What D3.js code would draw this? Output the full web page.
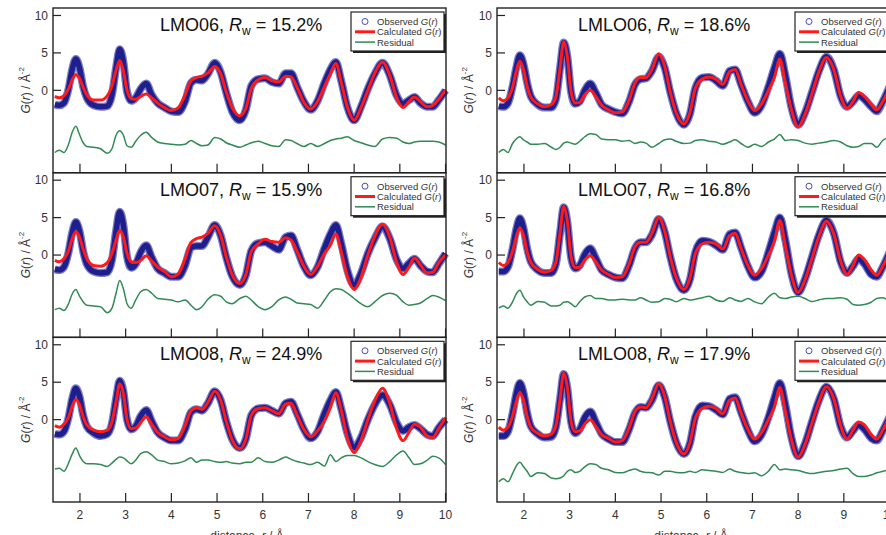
<!DOCTYPE html>
<html>
<head>
<meta charset="utf-8">
<script src="https://cdn.jsdelivr.net/npm/d3@7"></script>
<style>
  body { margin: 0; background: #fff; }
  svg { font-family: "Liberation Sans", Arial, sans-serif; }
</style>
</head>
<body>
<svg id="chart" width="886" height="535"></svg>
<script>
// r grid (Å) shared by every panel
const r = [1.45, 1.55, 1.65, 1.75, 1.83, 1.91, 1.99, 2.07, 2.15,
  2.3, 2.45, 2.6, 2.7, 2.79, 2.87, 2.95, 3.03, 3.12, 3.22, 3.33,
  3.45, 3.57, 3.7, 3.85, 4.0, 4.15, 4.3, 4.43, 4.55, 4.67,
  4.8, 4.95, 5.08, 5.2, 5.33, 5.5, 5.63, 5.75, 5.9, 6.05,
  6.2, 6.35, 6.5, 6.62, 6.75, 6.9, 7.05, 7.2, 7.35, 7.48,
  7.6, 7.72, 7.85, 8.0, 8.15, 8.3, 8.45, 8.62, 8.78, 8.93,
  9.07, 9.2, 9.32, 9.45, 9.6, 9.72, 9.85, 10.0];

const lmo06Obs = [-1.9, -2.0, -1.7, 0.2, 2.8, 4.2, 3.0, 0.5, -1.0,
  -2.0, -2.2, -2.1, -0.6, 3.0, 5.5, 3.8, -0.2, -1.4, -1.0, 0.2,
  0.9, -0.6, -1.7, -2.3, -2.8, -2.9, -1.5, 1.0, 1.4, 1.3,
  2.2, 3.7, 2.4, -0.3, -2.8, -4.0, -2.6, 0.6, 1.5, 1.6,
  1.1, 0.9, 2.3, 2.3, 0.5, -1.5, -2.6, -1.4, 1.0, 2.8,
  3.8, 1.2, -2.2, -4.0, -2.2, 0.2, 2.2, 3.7, 2.0, -0.7,
  -1.8, -1.3, -0.9, -1.7, -2.2, -2.2, -1.3, 0.0];
const lmo06Calc = [-0.8, -1.0, -0.7, 0.2, 1.4, 2.1, 1.6, 0.4, -0.6,
  -1.3, -1.3, -0.7, 0.6, 2.7, 4.0, 2.6, 0.0, -1.1, -1.2, -0.8,
  -0.5, -1.0, -1.7, -2.3, -2.7, -2.3, -0.6, 1.3, 1.7, 1.9,
  2.3, 3.2, 2.2, -0.2, -2.3, -3.4, -2.4, 0.3, 1.4, 1.7,
  1.3, 1.1, 1.9, 1.8, 0.4, -1.6, -2.5, -1.5, 0.5, 2.2,
  3.6, 1.0, -2.2, -4.0, -2.3, 0.0, 2.3, 3.8, 2.0, -1.0,
  -2.3, -1.5, -0.9, -1.5, -2.2, -2.0, -1.2, 0.1];
const lmo06Res = [-8.3, -8.0, -8.3, -7.2, -5.6, -4.8, -5.9, -7.0, -7.5,
  -7.6, -7.8, -8.4, -7.8, -6.0, -5.4, -6.0, -7.4, -7.6, -6.8, -6.0,
  -5.6, -6.3, -6.9, -7.1, -7.2, -7.3, -7.2, -6.7, -7.1, -7.4,
  -7.3, -6.3, -6.5, -7.0, -7.3, -7.6, -7.3, -7.0, -6.8, -7.1,
  -7.4, -7.5, -6.6, -6.7, -7.1, -7.5, -7.1, -7.5, -7.1, -6.7,
  -6.5, -6.4, -6.2, -6.7, -7.0, -7.3, -7.5, -6.5, -6.3, -6.4,
  -6.9, -7.1, -6.9, -6.8, -6.8, -6.8, -6.9, -7.3];

const lmo07Obs = [-1.9, -2.0, -1.6, 0.4, 3.0, 4.4, 3.2, 0.5, -1.2,
  -2.2, -2.4, -2.3, -0.7, 3.2, 5.8, 4.0, -0.2, -1.7, -1.2, 0.4,
  1.3, -0.3, -1.8, -2.4, -2.9, -2.9, -1.4, 1.0, 1.2, 1.2,
  2.4, 4.0, 2.6, -0.3, -2.8, -4.0, -2.7, 0.6, 1.6, 1.7,
  1.2, 0.7, 2.4, 2.6, 0.8, -1.5, -2.7, -1.6, 0.9, 2.8,
  4.0, 1.5, -2.0, -4.0, -2.4, 0.2, 2.2, 3.8, 2.2, -0.6,
  -1.8, -1.1, -0.5, -1.4, -2.2, -2.3, -1.2, 0.2];
const lmo07Calc = [-0.7, -0.9, -0.5, 0.6, 2.2, 3.1, 2.4, 0.8, -0.5,
  -1.4, -1.5, -1.0, 0.2, 2.0, 3.3, 2.4, 0.2, -0.9, -1.0, -0.7,
  -0.1, -0.8, -1.6, -2.2, -2.9, -2.5, -0.5, 1.7, 2.2, 2.4,
  2.9, 3.9, 2.6, -0.2, -2.6, -3.8, -2.6, 0.5, 1.5, 2.1,
  1.8, 1.7, 2.3, 2.0, 0.5, -1.5, -2.6, -1.5, 0.2, 1.3,
  2.8, 0.4, -2.8, -4.6, -3.0, 0.0, 2.5, 4.1, 2.4, -1.0,
  -2.6, -1.6, -0.4, -1.3, -2.4, -2.3, -1.0, 0.0];
const lmo07Res = [-7.3, -7.1, -7.4, -6.5, -5.2, -4.6, -5.5, -6.25, -6.7,
  -6.8, -6.9, -7.7, -7.1, -5.1, -3.4, -4.5, -6.5, -7.1, -6.0, -4.9,
  -4.6, -5.1, -5.8, -5.9, -6.0, -6.25, -6.0, -6.7, -7.3, -6.9,
  -5.9, -5.3, -5.5, -6.25, -6.5, -5.8, -5.5, -6.0, -6.9, -7.3,
  -6.9, -6.0, -5.6, -5.9, -6.4, -6.5, -6.6, -7.1, -6.0, -4.9,
  -4.5, -4.6, -5.1, -5.8, -6.5, -6.9, -6.25, -5.4, -5.1, -5.4,
  -6.25, -6.7, -6.6, -6.4, -5.8, -5.4, -5.6, -6.1];

const lmo08Obs = [-1.9, -2.0, -1.6, 0.3, 2.8, 4.2, 3.1, 0.6, -0.9,
  -1.8, -2.2, -1.9, -0.5, 2.8, 5.2, 3.8, 0.0, -1.3, -0.9, 0.5,
  1.3, -0.2, -1.7, -2.4, -2.8, -2.8, -1.3, 1.0, 1.4, 1.2,
  2.2, 3.8, 2.6, -0.2, -2.6, -3.8, -2.6, 0.6, 1.5, 1.6,
  1.2, 0.8, 2.2, 2.4, 0.8, -1.3, -2.5, -1.6, 0.8, 2.6,
  3.7, 1.4, -1.8, -3.7, -2.4, 0.0, 2.0, 3.3, 2.0, -0.4,
  -1.5, -1.0, -0.7, -1.2, -2.0, -2.2, -1.1, 0.0];
const lmo08Calc = [-0.8, -1.0, -0.6, 0.3, 1.8, 2.7, 2.0, 0.4, -0.7,
  -1.4, -1.6, -1.4, -0.3, 2.4, 4.8, 3.5, 0.0, -1.2, -1.1, -0.4,
  0.4, -0.6, -1.7, -2.3, -2.7, -2.5, -0.8, 1.2, 1.6, 1.4,
  2.3, 3.8, 2.6, -0.2, -2.7, -3.9, -2.6, 0.6, 1.5, 1.6,
  1.2, 0.8, 2.1, 2.2, 0.6, -1.3, -2.3, -1.5, -0.2, 1.6,
  3.6, 1.2, -2.4, -4.4, -2.8, 0.0, 2.5, 4.2, 2.2, -1.2,
  -2.8, -1.7, -0.6, -1.0, -2.2, -2.4, -1.2, 0.3];
const lmo08Res = [-6.6, -6.5, -6.9, -5.8, -4.6, -3.8, -4.8, -5.6, -5.9,
  -5.9, -6.0, -6.25, -5.8, -5.3, -5.0, -5.1, -5.5, -5.9, -5.4, -4.55,
  -4.3, -4.7, -5.4, -5.6, -5.9, -5.8, -5.5, -5.1, -5.7, -5.4,
  -5.4, -5.6, -5.7, -5.6, -5.8, -5.9, -5.7, -5.7, -5.1, -5.6,
  -5.7, -5.4, -5.0, -5.3, -5.6, -5.8, -6.0, -5.7, -6.2, -4.7,
  -5.6, -5.1, -4.8, -4.8, -5.1, -5.6, -6.0, -6.25, -5.6, -4.7,
  -4.2, -5.1, -6.0, -5.9, -5.4, -4.9, -5.1, -6.0];

const lmlo06Obs = [-2.1, -2.2, -1.7, 0.5, 3.0, 4.7, 3.5, 1.0, -0.8,
  -1.9, -2.3, -2.3, -1.2, 3.0, 6.4, 4.5, -0.2, -1.8, -1.5, 0.0,
  0.9, -0.3, -1.9, -2.5, -2.9, -3.1, -1.5, 0.8, 1.5, 1.6,
  2.6, 4.5, 3.0, -0.2, -3.0, -4.6, -3.2, 0.3, 1.7, 1.8,
  1.3, 0.6, 2.6, 2.8, 0.8, -1.5, -3.0, -2.0, 0.5, 3.0,
  4.9, 2.0, -2.2, -4.6, -3.0, -0.3, 2.5, 4.5, 2.8, -0.8,
  -2.2, -1.5, -0.7, -1.2, -2.2, -2.8, -1.5, 0.5];
const lmlo06Calc = [-1.0, -1.4, -1.0, 0.4, 2.5, 3.9, 2.8, 0.5, -0.9,
  -1.8, -2.2, -1.9, -0.8, 3.0, 6.5, 4.5, -0.2, -1.7, -1.6, -0.6,
  0.0, -0.8, -2.0, -2.6, -3.0, -2.9, -1.3, 1.0, 1.7, 1.7,
  2.8, 4.9, 3.2, -0.2, -3.0, -4.5, -3.0, 0.3, 1.5, 1.8,
  1.5, 0.8, 2.5, 2.8, 0.8, -1.4, -2.7, -1.8, 0.0, 1.7,
  4.2, 1.0, -2.5, -4.9, -3.2, -0.5, 2.4, 4.4, 2.8, -0.8,
  -2.4, -1.5, -0.3, -0.8, -1.9, -2.6, -1.5, 0.3];
const lmlo06Res = [-8.3, -7.9, -8.3, -7.1, -6.5, -6.2, -6.6, -6.9, -7.2,
  -7.2, -7.1, -7.6, -7.9, -7.6, -7.05, -6.9, -7.05, -7.2, -6.8, -6.2,
  -5.8, -5.9, -6.5, -6.6, -6.6, -6.8, -6.7, -7.1, -6.9, -7.05,
  -7.6, -7.1, -6.6, -6.5, -6.8, -7.1, -7.05, -6.7, -6.6, -6.8,
  -6.9, -7.2, -6.9, -6.6, -7.1, -7.6, -7.2, -7.5, -6.9, -6.5,
  -5.9, -6.7, -6.6, -6.7, -7.05, -7.2, -7.05, -6.9, -6.7, -6.9,
  -7.4, -7.6, -7.5, -7.1, -7.1, -7.6, -6.7, -6.25];

const lmlo07Obs = [-2.2, -2.2, -1.6, 0.8, 3.4, 4.9, 3.6, 0.9, -0.9,
  -2.0, -2.4, -2.4, -1.2, 3.0, 6.4, 4.4, -0.3, -1.8, -1.4, 0.1,
  0.9, -0.4, -2.0, -2.6, -3.0, -3.1, -1.4, 0.9, 1.7, 1.7,
  2.7, 4.8, 3.1, -0.2, -3.1, -4.7, -3.3, 0.4, 1.9, 1.8,
  1.3, 0.7, 2.8, 3.0, 1.0, -1.5, -3.0, -2.2, 0.4, 3.0,
  5.0, 2.0, -2.4, -5.0, -3.2, -0.3, 2.6, 4.6, 2.9, -0.9,
  -2.4, -1.5, -0.5, -1.2, -2.6, -2.9, -1.6, 0.4];
const lmlo07Calc = [-1.0, -1.4, -1.0, 0.5, 2.4, 3.6, 2.6, 0.4, -1.0,
  -1.9, -2.3, -2.0, -0.9, 3.0, 6.5, 4.5, -0.2, -1.7, -1.6, -0.7,
  -0.1, -0.9, -2.0, -2.6, -3.0, -2.9, -1.2, 1.1, 1.7, 1.7,
  2.9, 5.0, 3.2, -0.2, -3.0, -4.6, -3.1, 0.2, 1.5, 1.7,
  1.5, 0.8, 2.6, 2.9, 0.9, -1.4, -2.7, -1.8, 0.0, 1.8,
  4.6, 1.2, -2.6, -5.0, -3.3, -0.5, 2.4, 4.5, 2.8, -0.8,
  -2.6, -1.4, 0.0, -0.6, -2.0, -2.7, -1.5, 0.4];
const lmlo07Res = [-7.1, -6.8, -7.1, -6.25, -5.2, -4.7, -5.6, -6.25, -6.7,
  -6.2, -6.3, -6.8, -6.8, -6.7, -6.3, -6.25, -6.5, -6.9, -6.25, -5.6,
  -5.4, -5.8, -5.8, -6.0, -6.0, -5.9, -6.0, -6.0, -5.7, -6.0,
  -6.3, -6.25, -5.8, -5.9, -6.25, -5.8, -6.0, -5.9, -5.7, -5.5,
  -6.0, -6.2, -5.7, -6.0, -6.2, -5.8, -6.25, -6.5, -5.6, -5.1,
  -5.7, -5.8, -5.6, -5.5, -5.8, -6.2, -6.0, -5.8, -5.8, -5.7,
  -5.9, -6.6, -6.7, -6.6, -6.3, -5.8, -5.7, -6.25];

const lmlo08Obs = [-2.2, -2.2, -1.6, 0.8, 3.4, 4.9, 3.6, 0.9, -0.9,
  -1.9, -2.4, -2.3, -1.0, 2.8, 6.1, 4.2, -0.3, -1.8, -1.3, 0.3,
  1.1, -0.3, -1.9, -2.6, -3.0, -3.0, -1.3, 0.9, 1.7, 1.6,
  2.6, 4.6, 3.0, -0.2, -3.0, -4.6, -3.2, 0.4, 1.9, 1.8,
  1.3, 0.7, 2.8, 3.0, 1.0, -1.4, -2.9, -2.0, 0.3, 2.9,
  4.9, 2.0, -2.3, -4.9, -3.2, -0.3, 2.5, 4.4, 2.8, -0.9,
  -2.4, -1.5, -0.7, -1.3, -2.5, -2.8, -1.5, 0.4];
const lmlo08Calc = [-1.0, -1.4, -1.0, 0.5, 2.4, 3.6, 2.6, 0.4, -1.0,
  -1.8, -2.2, -1.9, -0.8, 2.8, 6.2, 4.3, -0.2, -1.6, -1.5, -0.6,
  0.0, -0.9, -2.0, -2.5, -3.0, -2.8, -1.1, 1.1, 1.7, 1.6,
  2.8, 4.8, 3.1, -0.2, -3.0, -4.6, -3.1, 0.2, 1.5, 1.8,
  1.5, 0.8, 2.6, 2.9, 0.9, -1.3, -2.6, -1.7, 0.0, 1.7,
  4.3, 1.1, -2.6, -5.0, -3.3, -0.5, 2.3, 4.4, 2.8, -0.8,
  -2.6, -1.4, -0.3, -0.7, -2.0, -2.6, -1.4, 0.4];
const lmlo08Res = [-8.3, -7.9, -8.3, -7.2, -6.2, -5.7, -6.3, -6.9, -7.6,
  -7.1, -7.2, -7.8, -7.9, -7.8, -7.5, -6.9, -6.7, -7.05, -6.9, -6.3,
  -5.9, -6.0, -6.5, -6.7, -7.05, -7.1, -6.8, -6.6, -6.9, -7.05,
  -7.1, -7.4, -6.9, -6.9, -7.05, -7.1, -6.9, -7.05, -6.7, -6.8,
  -6.9, -7.05, -6.6, -6.9, -7.05, -7.2, -7.1, -7.5, -6.9, -6.0,
  -6.7, -6.6, -6.7, -6.8, -7.05, -7.2, -7.05, -6.9, -6.8, -6.6,
  -6.5, -7.2, -7.6, -7.6, -7.4, -7.1, -6.9, -6.7];

const xTicks = [2, 3, 4, 5, 6, 7, 8, 9, 10];
const yTicks = [0, 5, 10];

const panels = [
  { name: "LMO06", rw: "15.2%", obs: lmo06Obs, calc: lmo06Calc, res: lmo06Res, col: 0, row: 0 },
  { name: "LMO07", rw: "15.9%", obs: lmo07Obs, calc: lmo07Calc, res: lmo07Res, col: 0, row: 1 },
  { name: "LMO08", rw: "24.9%", obs: lmo08Obs, calc: lmo08Calc, res: lmo08Res, col: 0, row: 2 },
  { name: "LMLO06", rw: "18.6%", obs: lmlo06Obs, calc: lmlo06Calc, res: lmlo06Res, col: 1, row: 0 },
  { name: "LMLO07", rw: "16.8%", obs: lmlo07Obs, calc: lmlo07Calc, res: lmlo07Res, col: 1, row: 1 },
  { name: "LMLO08", rw: "17.9%", obs: lmlo08Obs, calc: lmlo08Calc, res: lmlo08Res, col: 1, row: 2 }
];

// layout
const colX = [53, 497];
const rowY = [8, 172.7, 337.3];
const pw = 393, ph = 164.7;
const titleX = [107, 81];
const ylabX = [30, 473];

const svg = d3.select("#chart");
const ink = "#222", txt = "#333";

panels.forEach(p => {
  const x0 = colX[p.col], y0 = rowY[p.row];
  const x = d3.scaleLinear().domain([1.41, 10.01]).range([x0, x0 + pw]);
  const y = d3.scaleLinear().domain([-11, 11]).range([y0 + ph, y0]);
  const g = svg.append("g");

  const line = vals => d3.line()
    .x((d, i) => x(r[i]))
    .y(d => y(d))
    .curve(d3.curveMonotoneX)(vals);

  // residual
  g.append("path").attr("d", line(p.res))
    .attr("fill", "none").attr("stroke", "#2f8a55").attr("stroke-width", 1.5);

  // observed: dense open circles -> thick navy band
  g.append("path").attr("d", line(p.obs))
    .attr("fill", "none").attr("stroke", "#4545b2").attr("stroke-opacity", 0.7)
    .attr("stroke-width", 8).attr("stroke-linejoin", "round");
  g.append("path").attr("d", line(p.obs))
    .attr("fill", "none").attr("stroke", "#1e1e8c")
    .attr("stroke-width", 5.5).attr("stroke-linejoin", "round");

  // calculated
  g.append("path").attr("d", line(p.calc))
    .attr("fill", "none").attr("stroke", "#ff1a1a").attr("stroke-width", 3)
    .attr("stroke-linejoin", "round");

  // frame
  g.append("rect").attr("x", x0).attr("y", y0).attr("width", pw).attr("height", ph)
    .attr("fill", "none").attr("stroke", ink).attr("stroke-width", 1.4);

  // x ticks (inside, bottom)
  g.selectAll(".xt").data(xTicks).enter().append("line")
    .attr("x1", d => x(d)).attr("x2", d => x(d))
    .attr("y1", y0 + ph).attr("y2", y0 + ph - 9)
    .attr("stroke", ink).attr("stroke-width", 1.2);
  if (p.row === 2) {
    g.selectAll(".xl").data(xTicks).enter().append("text")
      .attr("x", d => x(d)).attr("y", y0 + ph + 16.5)
      .attr("text-anchor", "middle").attr("font-size", 12).attr("fill", txt)
      .text(d => d);
    // axis title sits at the very bottom edge, as in the source figure
    const xl = g.append("text").attr("x", x0 + 194).attr("y", 540)
      .attr("text-anchor", "middle").attr("font-size", 12).attr("fill", txt);
    xl.append("tspan").text("distance, ");
    xl.append("tspan").attr("font-style", "italic").text("r");
    xl.append("tspan").text(" / Å");
  }

  // y ticks (inside, left)
  g.selectAll(".yt").data(yTicks).enter().append("line")
    .attr("x1", x0).attr("x2", x0 + 8)
    .attr("y1", d => y(d)).attr("y2", d => y(d))
    .attr("stroke", ink).attr("stroke-width", 1.2);
  g.selectAll(".yl").data(yTicks).enter().append("text")
    .attr("x", x0 - 5).attr("y", d => y(d)).attr("dy", "0.35em")
    .attr("text-anchor", "end").attr("font-size", 12).attr("fill", txt)
    .text(d => d);

  // y label
  const yl = g.append("text")
    .attr("transform", `translate(${ylabX[p.col]},${y0 + ph / 2}) rotate(-90)`)
    .attr("text-anchor", "middle").attr("font-size", 12).attr("fill", txt);
  yl.append("tspan").attr("font-style", "italic").text("G");
  yl.append("tspan").text("(");
  yl.append("tspan").attr("font-style", "italic").text("r");
  yl.append("tspan").text(") / Å");
  yl.append("tspan").attr("font-size", 8).attr("dy", -6).text("-2");

  // title
  const t = g.append("text").attr("x", x0 + titleX[p.col]).attr("y", y0 + 23)
    .attr("font-size", 18).attr("fill", "#111");
  t.append("tspan").text(p.name + ", ");
  t.append("tspan").attr("font-style", "italic").text("R");
  t.append("tspan").attr("font-size", 12).attr("dy", 4).text("w");
  t.append("tspan").attr("dy", -4).text(" = " + p.rw);

  // legend
  const lx = x0 + 298, ly = y0 + 4;
  g.append("rect").attr("x", lx + 2).attr("y", ly + 2).attr("width", 93).attr("height", 39)
    .attr("fill", ink);
  g.append("rect").attr("x", lx).attr("y", ly).attr("width", 93).attr("height", 39)
    .attr("fill", "#fff").attr("stroke", ink).attr("stroke-width", 1.2);
  const rows = [
    { label: "Observed ", gr: true, type: "circle", color: "#4a4ab8" },
    { label: "Calculated ", gr: true, type: "line", color: "#ff1a1a", w: 3 },
    { label: "Residual", gr: false, type: "line", color: "#2f8a55", w: 1.5 }
  ];
  rows.forEach((d, i) => {
    const cy = ly + 9.5 + i * 10.3;
    if (d.type === "circle") {
      g.append("circle").attr("cx", lx + 14).attr("cy", cy).attr("r", 3)
        .attr("fill", "none").attr("stroke", d.color).attr("stroke-width", 1);
    } else {
      g.append("line").attr("x1", lx + 4).attr("x2", lx + 24).attr("y1", cy).attr("y2", cy)
        .attr("stroke", d.color).attr("stroke-width", d.w);
    }
    const lt = g.append("text").attr("x", lx + 26).attr("y", cy + 3.4)
      .attr("font-size", 9.5).attr("fill", txt);
    lt.append("tspan").text(d.label);
    if (d.gr) {
      lt.append("tspan").attr("font-style", "italic").text("G");
      lt.append("tspan").text("(");
      lt.append("tspan").attr("font-style", "italic").text("r");
      lt.append("tspan").text(")");
    }
  });
});
</script>
</body>
</html>
